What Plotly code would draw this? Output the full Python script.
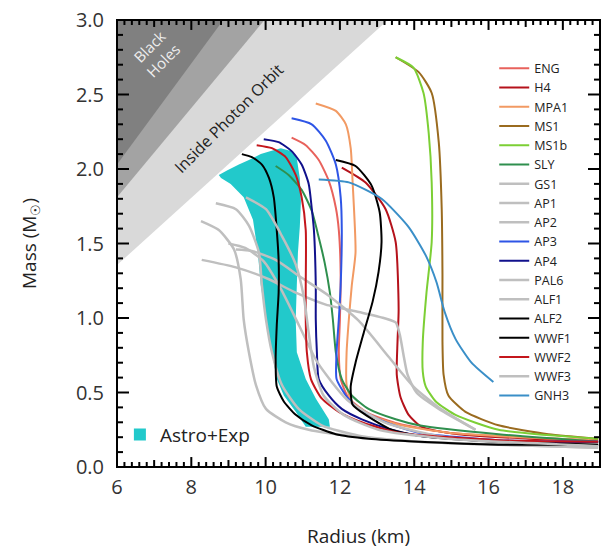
import plotly.graph_objects as go

# ---------------- data ----------------
ENG_R = [10.70, 11.08, 11.43, 11.70, 11.89, 11.97, 12.02, 12.00, 11.97, 12.02, 12.24, 12.77, 13.58, 14.92, 16.81, 18.95]
ENG_M = [2.21, 2.16, 2.06, 1.92, 1.74, 1.59, 1.29, 0.99, 0.77, 0.59, 0.46, 0.36, 0.29, 0.23, 0.20, 0.18]

H4_R = [12.05, 12.69, 13.23, 13.50, 13.58, 13.55, 13.53, 13.63, 13.85, 14.20, 15.19, 17.08, 18.95]
H4_M = [2.01, 1.91, 1.73, 1.51, 1.06, 0.84, 0.62, 0.47, 0.35, 0.27, 0.22, 0.19, 0.17]

MPA1_R = [11.35, 11.89, 12.16, 12.29, 12.34, 12.42, 12.32, 12.24, 12.18, 12.18, 12.32, 12.77, 13.66, 14.92, 16.81, 18.95]
MPA1_M = [2.44, 2.39, 2.30, 2.14, 1.92, 1.44, 1.22, 0.99, 0.77, 0.55, 0.44, 0.35, 0.28, 0.23, 0.20, 0.18]

MS1_R = [13.50, 14.12, 14.47, 14.66, 14.74, 14.76, 14.76, 14.79, 14.92, 15.38, 16.27, 17.61, 18.95]
MS1_M = [2.75, 2.65, 2.51, 2.18, 1.73, 1.29, 0.84, 0.62, 0.48, 0.37, 0.28, 0.22, 0.19]

MS1b_R = [13.50, 13.98, 14.25, 14.39, 14.47, 14.47, 14.33, 14.23, 14.23, 14.31, 14.58, 15.11, 16.27, 18.95]
MS1b_M = [2.75, 2.68, 2.51, 2.24, 1.91, 1.51, 1.17, 0.84, 0.64, 0.54, 0.44, 0.35, 0.25, 0.19]

SLY_R = [10.27, 10.62, 10.97, 11.24, 11.43, 11.59, 11.73, 11.81, 11.89, 12.05, 12.32, 12.77, 13.50, 14.12, 16.27, 18.95]
SLY_M = [2.02, 1.96, 1.86, 1.72, 1.54, 1.37, 1.17, 0.99, 0.77, 0.59, 0.48, 0.39, 0.32, 0.28, 0.22, 0.17]

GS1_R = [8.28, 9.20, 10.09, 10.81, 11.62, 12.51, 13.18, 13.50, 13.61, 13.72, 13.82, 14.06, 14.66, 15.65]
GS1_M = [1.39, 1.34, 1.26, 1.17, 1.09, 1.04, 1.00, 0.97, 0.89, 0.74, 0.62, 0.50, 0.39, 0.25]

AP1_R = [8.26, 8.74, 9.15, 9.33, 9.41, 9.55, 9.74, 10.01, 10.54, 11.16, 12.24, 14.12, 16.27, 18.95]
AP1_M = [1.65, 1.59, 1.46, 1.26, 0.99, 0.77, 0.55, 0.39, 0.30, 0.25, 0.21, 0.17, 0.15, 0.13]

AP2_R = [8.66, 9.20, 9.55, 9.82, 9.90, 10.01, 10.17, 10.44, 10.89, 11.51, 12.51, 14.12, 16.27, 18.95]
AP2_M = [1.77, 1.73, 1.62, 1.44, 1.22, 0.99, 0.77, 0.55, 0.39, 0.28, 0.21, 0.17, 0.15, 0.13]

AP3_R = [10.70, 11.24, 11.62, 11.89, 12.02, 12.05, 12.02, 11.97, 11.91, 11.91, 12.16, 12.51, 13.23, 14.12, 16.27, 18.95]
AP3_M = [2.34, 2.30, 2.19, 2.03, 1.81, 1.59, 1.22, 0.99, 0.77, 0.59, 0.48, 0.39, 0.30, 0.23, 0.18, 0.17]

AP4_R = [9.95, 10.35, 10.70, 10.97, 11.16, 11.24, 11.30, 11.35, 11.35, 11.38, 11.43, 11.70, 12.05, 12.59, 13.39, 14.12, 16.27, 18.95]
AP4_M = [2.20, 2.18, 2.12, 2.03, 1.90, 1.74, 1.59, 1.22, 0.99, 0.77, 0.59, 0.48, 0.39, 0.32, 0.25, 0.21, 0.17, 0.17]

PAL6_R = [9.20, 9.63, 10.27, 10.97, 11.70, 12.51, 13.31, 13.98, 14.66, 15.65]
PAL6_M = [1.46, 1.45, 1.39, 1.27, 1.15, 0.98, 0.74, 0.54, 0.40, 0.25]

ALF1_R = [9.00, 9.45, 9.95, 10.40, 10.90, 11.40, 12.20, 13.20, 14.60, 16.50, 18.95]
ALF1_M = [1.50, 1.47, 1.38, 1.20, 0.95, 0.70, 0.45, 0.30, 0.21, 0.16, 0.14]

ALF2_R = [11.89, 12.42, 12.85, 13.07, 13.12, 13.04, 12.88, 12.64, 12.42, 12.29, 12.34, 12.69, 13.39, 14.12, 16.27, 18.95]
ALF2_M = [2.06, 2.02, 1.89, 1.71, 1.51, 1.31, 1.11, 0.90, 0.70, 0.54, 0.42, 0.35, 0.25, 0.21, 0.17, 0.15]

WWF1_R = [9.36, 9.63, 9.90, 10.09, 10.22, 10.30, 10.35, 10.35, 10.30, 10.27, 10.30, 10.49, 10.81, 11.24, 11.89, 12.77, 14.12, 16.27, 18.95]
WWF1_M = [2.10, 2.08, 2.03, 1.94, 1.81, 1.59, 1.39, 1.17, 0.95, 0.72, 0.54, 0.44, 0.35, 0.28, 0.22, 0.19, 0.17, 0.15, 0.15]

WWF2_R = [9.76, 10.17, 10.54, 10.81, 10.97, 11.08, 11.08, 11.08, 11.11, 11.22, 11.51, 11.97, 12.59, 13.58, 16.27, 18.95]
WWF2_M = [2.16, 2.14, 2.08, 1.96, 1.81, 1.59, 1.22, 0.99, 0.77, 0.59, 0.46, 0.37, 0.30, 0.23, 0.18, 0.17]

WWF3_R = [9.47, 10.01, 10.44, 10.81, 11.03, 11.16, 11.30, 11.56, 12.10, 13.04, 14.92, 18.95]
WWF3_M = [1.81, 1.73, 1.55, 1.36, 1.14, 0.90, 0.67, 0.48, 0.35, 0.25, 0.19, 0.14]

GNH3_R = [11.43, 12.24, 13.12, 13.85, 14.31, 14.60, 14.82, 15.11, 15.54, 16.13]
GNH3_M = [1.93, 1.91, 1.80, 1.61, 1.42, 1.24, 1.04, 0.86, 0.70, 0.57]

# Astro+Exp allowed band (outline)
BAND_R = [8.74, 8.96, 9.28, 9.55, 9.87, 10.14, 10.41, 10.68, 10.84, 10.92, 10.95, 10.92, 10.87,
          10.84, 10.81, 10.84, 11.08, 11.35, 11.70, 11.73, 11.08, 10.81, 10.49, 10.30, 10.17,
          10.01, 9.87, 9.79, 9.66, 9.41, 9.06, 8.80]
BAND_M = [1.96, 1.99, 2.03, 2.06, 2.10, 2.12, 2.14, 2.12, 2.07, 1.94, 1.78, 1.61, 1.44,
          1.22, 0.99, 0.77, 0.59, 0.46, 0.32, 0.27, 0.27, 0.37, 0.48, 0.59, 0.77,
          0.99, 1.22, 1.44, 1.66, 1.81, 1.90, 1.94]

# excluded regions (corner points)
PHOTON_R = [6.0, 6.0, 13.29]
PHOTON_M = [1.355, 3.0, 3.0]
BUCHDAHL_R = [6.0, 6.0, 9.97]
BUCHDAHL_M = [1.81, 3.0, 3.0]
BH_R = [6.0, 6.0, 8.86]
BH_M = [2.03, 3.0, 3.0]

X_TICKS = [6, 8, 10, 12, 14, 16, 18]
Y_TICKS = [0.0, 0.5, 1.0, 1.5, 2.0, 2.5, 3.0]
X_RANGE = [6, 19]
Y_RANGE = [0, 3]
X_MINOR_STEP = 0.2
Y_MINOR_STEP = 0.1

CURVES = [
    ("ENG", ENG_R, ENG_M, "#e8625c"),
    ("H4", H4_R, H4_M, "#b5121b"),
    ("MPA1", MPA1_R, MPA1_M, "#f29a63"),
    ("MS1", MS1_R, MS1_M, "#9a6b1f"),
    ("MS1b", MS1b_R, MS1b_M, "#7ccf35"),
    ("SLY", SLY_R, SLY_M, "#2f8f4e"),
    ("GS1", GS1_R, GS1_M, "#bfbfbf"),
    ("AP1", AP1_R, AP1_M, "#bfbfbf"),
    ("AP2", AP2_R, AP2_M, "#bfbfbf"),
    ("AP3", AP3_R, AP3_M, "#2e55e6"),
    ("AP4", AP4_R, AP4_M, "#11118c"),
    ("PAL6", PAL6_R, PAL6_M, "#bfbfbf"),
    ("ALF1", ALF1_R, ALF1_M, "#bfbfbf"),
    ("ALF2", ALF2_R, ALF2_M, "#000000"),
    ("WWF1", WWF1_R, WWF1_M, "#000000"),
    ("WWF2", WWF2_R, WWF2_M, "#c4161c"),
    ("WWF3", WWF3_R, WWF3_M, "#bfbfbf"),
    ("GNH3", GNH3_R, GNH3_M, "#3a8fc8"),
]

FONT = "Open Sans"
CYAN = "#22c9cb"
W, H = 606, 556
ML, MR, MT, MB = 117, 6, 18, 89
PW, PH = W - ML - MR, H - MT - MB

fig = go.Figure()

for R, M, col in [(PHOTON_R, PHOTON_M, "#d9d9d9"), (BUCHDAHL_R, BUCHDAHL_M, "#a3a3a3"), (BH_R, BH_M, "#808080")]:
    fig.add_trace(go.Scatter(x=R, y=M, mode="none", fill="toself", fillcolor=col,
                             showlegend=False, hoverinfo="skip"))

fig.add_trace(go.Scatter(x=BAND_R, y=BAND_M, mode="none", fill="toself", fillcolor=CYAN,
                         showlegend=False, hoverinfo="skip"))
fig.add_trace(go.Scatter(x=[None], y=[None], mode="markers", name="Astro+Exp",
                         marker=dict(symbol="square", size=12, color=CYAN), legend="legend2"))

for name, R, M, col in CURVES:
    grey = col == "#bfbfbf"
    fig.add_trace(go.Scatter(x=R, y=M, mode="lines", name=name,
                             line=dict(color=col, width=2.5 if grey else 2, shape="spline", smoothing=0.6)))

fig.add_annotation(x=7.05, y=2.77, text="Black<br>Holes", showarrow=False, textangle=-45,
                   font=dict(family=FONT, size=15, color="#eeeeee"))
fig.add_annotation(x=9.02, y=2.34, text="Inside Photon Orbit", showarrow=False, textangle=-45,
                   font=dict(family=FONT, size=16, color="#222222"))

# ---- frame and inside tick marks (drawn as shapes on all four sides) ----
shapes = [dict(type="rect", xref="paper", yref="paper", x0=0, y0=0, x1=1, y1=1,
               line=dict(color="black", width=2), layer="above")]
nx = int(round((X_RANGE[1] - X_RANGE[0]) / X_MINOR_STEP))
for k in range(nx + 1):
    xv = X_RANGE[0] + k * X_MINOR_STEP
    if abs(xv - round(xv)) < 1e-6:
        ln = 10 if round(xv) in X_TICKS else 7
    else:
        ln = 5
    f = ln / PH
    for y0, y1 in [(0, f), (1, 1 - f)]:
        shapes.append(dict(type="line", xref="x", yref="paper", x0=xv, x1=xv, y0=y0, y1=y1,
                           line=dict(color="black", width=2), layer="above"))
ny = int(round((Y_RANGE[1] - Y_RANGE[0]) / Y_MINOR_STEP))
for k in range(ny + 1):
    yv = Y_RANGE[0] + k * Y_MINOR_STEP
    major = any(abs(yv - t) < 1e-6 for t in Y_TICKS)
    ln = 12 if major else 6
    f = ln / PW
    for x0, x1 in [(0, f), (1, 1 - f)]:
        shapes.append(dict(type="line", xref="paper", yref="y", x0=x0, x1=x1, y0=yv, y1=yv,
                           line=dict(color="black", width=2), layer="above"))

fig.update_xaxes(range=X_RANGE, tickmode="array", tickvals=X_TICKS,
                 showline=False, ticks="", showgrid=False, zeroline=False,
                 tickfont=dict(family=FONT, size=20, color="#333333"), ticklabelstandoff=6,
                 title=dict(text="Radius (km)", font=dict(family=FONT, size=19, color="#222222"), standoff=30))
fig.update_yaxes(range=Y_RANGE, tickmode="array", tickvals=Y_TICKS, tickformat=".1f",
                 showline=False, ticks="", showgrid=False, zeroline=False,
                 tickfont=dict(family=FONT, size=20, color="#333333"), ticklabelstandoff=12,
                 title=dict(text="Mass (M<sub>☉</sub>)", font=dict(family=FONT, size=19, color="#222222"), standoff=34))

fig.update_layout(
    width=W, height=H,
    margin=dict(l=ML, r=MR, t=MT, b=MB),
    paper_bgcolor="white", plot_bgcolor="white",
    font=dict(family=FONT),
    shapes=shapes,
    legend=dict(x=0.781, y=0.925, xanchor="left", yanchor="top", bgcolor="rgba(0,0,0,0)",
                font=dict(family=FONT, size=12.5, color="#222222"), tracegroupgap=0, itemwidth=30),
    legend2=dict(x=0.006, y=0.115, xanchor="left", yanchor="top", bgcolor="rgba(0,0,0,0)",
                 font=dict(family=FONT, size=19, color="#222222")),
)

fig.write_html("out.html", config={"displayModeBar": False},
               post_script="document.body.style.margin='0';")
